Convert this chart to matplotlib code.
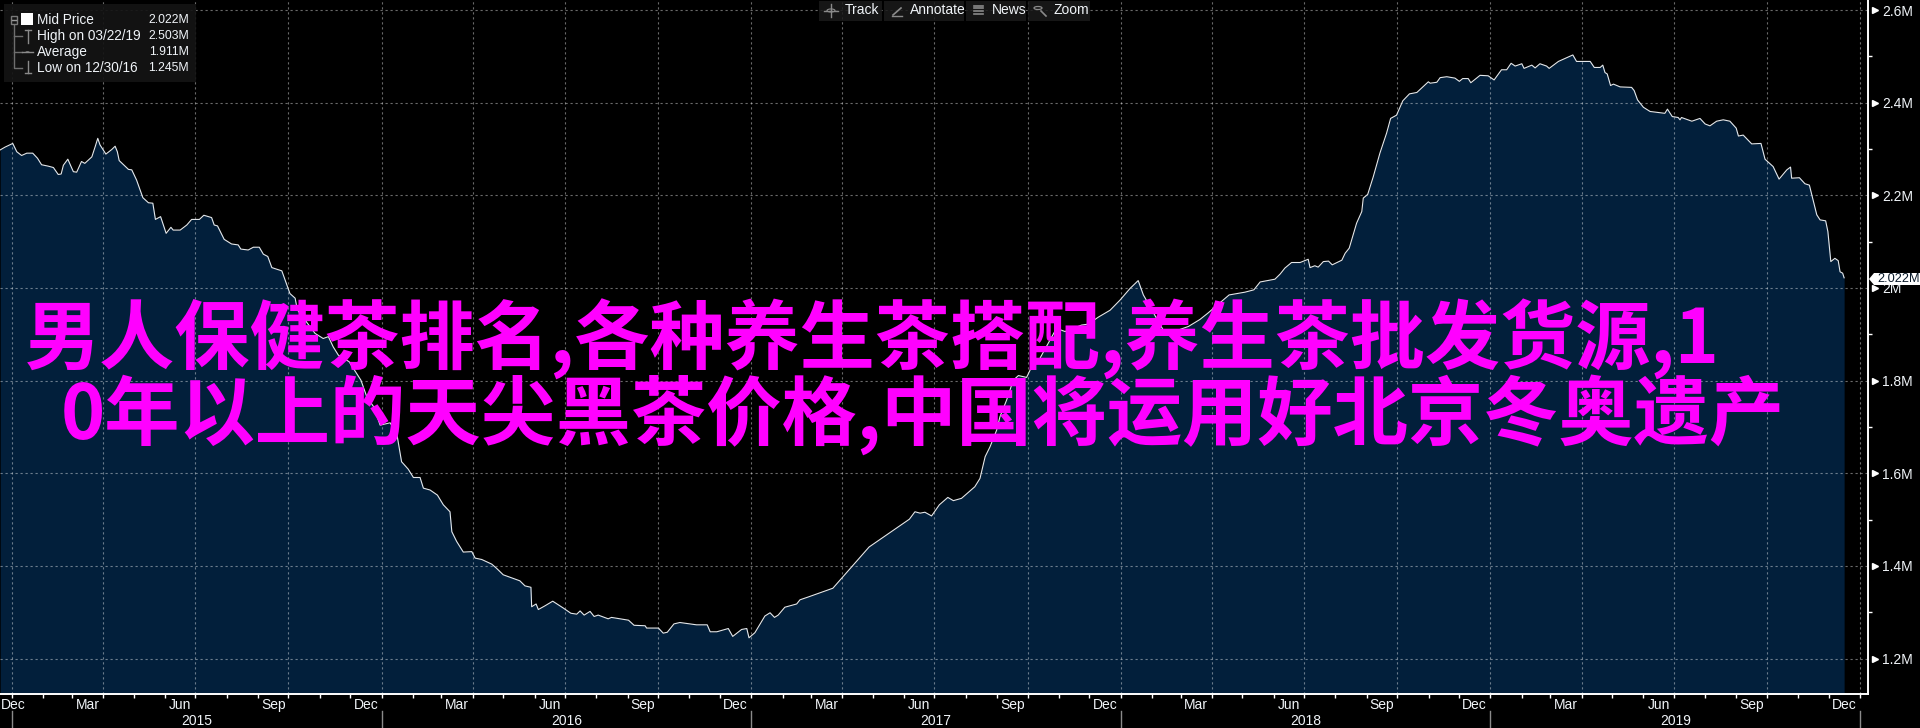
import matplotlib
matplotlib.use('Agg')
import matplotlib.pyplot as plt
from matplotlib.lines import Line2D
from matplotlib.patches import Rectangle, Polygon, Circle

# decimal years and mid price in millions
dates = [
    2014.968, 2014.981, 2015.002, 2015.013, 2015.026, 2015.040, 2015.056, 2015.069, 2015.080, 2015.098,
    2015.112, 2015.125, 2015.133, 2015.139, 2015.151, 2015.166, 2015.175, 2015.188, 2015.197, 2015.216,
    2015.225, 2015.232, 2015.238, 2015.254, 2015.270, 2015.279, 2015.285, 2015.290, 2015.306, 2015.315,
    2015.324, 2015.337, 2015.354, 2015.369, 2015.381, 2015.388, 2015.402, 2015.417, 2015.430, 2015.436,
    2015.455, 2015.473, 2015.486, 2015.507, 2015.519, 2015.540, 2015.547, 2015.556, 2015.574, 2015.594,
    2015.612, 2015.619, 2015.639, 2015.653, 2015.669, 2015.680, 2015.692, 2015.703, 2015.730, 2015.752,
    2015.766, 2015.772, 2015.820, 2015.842, 2015.856, 2015.869, 2015.883, 2015.912, 2015.944, 2015.960,
    2015.979, 2015.996, 2016.023, 2016.041, 2016.054, 2016.072, 2016.086, 2016.104, 2016.113, 2016.131,
    2016.151, 2016.167, 2016.185, 2016.190, 2016.203, 2016.221, 2016.244, 2016.253, 2016.271, 2016.298,
    2016.311, 2016.329, 2016.374, 2016.388, 2016.404, 2016.406, 2016.418, 2016.424, 2016.442, 2016.463,
    2016.492, 2016.512, 2016.528, 2016.537, 2016.548, 2016.564, 2016.575, 2016.586, 2016.613, 2016.622,
    2016.668, 2016.683, 2016.713, 2016.717, 2016.749, 2016.762, 2016.773, 2016.791, 2016.807, 2016.852,
    2016.881, 2016.889, 2016.907, 2016.938, 2016.950, 2016.974, 2016.988, 2016.994, 2017.010, 2017.037,
    2017.051, 2017.063, 2017.073, 2017.091, 2017.123, 2017.132, 2017.154, 2017.221, 2017.286, 2017.319,
    2017.386, 2017.428, 2017.443, 2017.457, 2017.470, 2017.488, 2017.509, 2017.532, 2017.547, 2017.569,
    2017.605, 2017.619, 2017.633, 2017.646, 2017.664, 2017.673, 2017.691, 2017.709, 2017.723, 2017.745,
    2017.759, 2017.781, 2017.826, 2017.849, 2017.872, 2017.894, 2017.912, 2017.939, 2017.971, 2017.998,
    2018.025, 2018.047, 2018.061, 2018.079, 2018.097, 2018.115, 2018.151, 2018.183, 2018.214, 2018.236,
    2018.293, 2018.336, 2018.360, 2018.377, 2018.417, 2018.431, 2018.444, 2018.462, 2018.485, 2018.507,
    2018.512, 2018.525, 2018.534, 2018.548, 2018.562, 2018.572, 2018.598, 2018.607, 2018.618, 2018.638,
    2018.652, 2018.656, 2018.668, 2018.683, 2018.701, 2018.719, 2018.730, 2018.746, 2018.763, 2018.781,
    2018.801, 2018.832, 2018.837, 2018.855, 2018.864, 2018.882, 2018.904, 2018.916, 2018.925, 2018.940,
    2018.947, 2018.972, 2018.994, 2019.010, 2019.030, 2019.044, 2019.056, 2019.067, 2019.085, 2019.091,
    2019.112, 2019.121, 2019.134, 2019.152, 2019.159, 2019.184, 2019.206, 2019.223, 2019.233, 2019.270,
    2019.281, 2019.297, 2019.304, 2019.310, 2019.316, 2019.325, 2019.333, 2019.351, 2019.382, 2019.389,
    2019.398, 2019.414, 2019.432, 2019.472, 2019.479, 2019.492, 2019.508, 2019.513, 2019.517, 2019.545,
    2019.567, 2019.581, 2019.594, 2019.612, 2019.630, 2019.648, 2019.665, 2019.671, 2019.684, 2019.707,
    2019.732, 2019.743, 2019.765, 2019.781, 2019.802, 2019.812, 2019.815, 2019.836, 2019.851, 2019.863,
    2019.883, 2019.892, 2019.907, 2019.913, 2019.921, 2019.932, 2019.941, 2019.946, 2019.953, 2019.957,
]
mid_price = [
    2.298, 2.304, 2.312, 2.294, 2.286, 2.291, 2.291, 2.280, 2.266, 2.263,
    2.260, 2.245, 2.246, 2.265, 2.278, 2.251, 2.250, 2.273, 2.269, 2.283,
    2.305, 2.323, 2.309, 2.289, 2.299, 2.306, 2.294, 2.275, 2.263, 2.256,
    2.255, 2.233, 2.195, 2.184, 2.183, 2.148, 2.154, 2.118, 2.131, 2.125,
    2.125, 2.136, 2.148, 2.148, 2.157, 2.152, 2.136, 2.134, 2.105, 2.095,
    2.093, 2.084, 2.082, 2.088, 2.088, 2.073, 2.068, 2.044, 2.037, 1.988,
    1.978, 1.953, 1.902, 1.891, 1.895, 1.873, 1.855, 1.841, 1.801, 1.765,
    1.743, 1.704, 1.709, 1.686, 1.625, 1.609, 1.591, 1.591, 1.568, 1.564,
    1.553, 1.532, 1.517, 1.474, 1.453, 1.430, 1.431, 1.417, 1.414, 1.404,
    1.395, 1.381, 1.368, 1.357, 1.354, 1.312, 1.318, 1.306, 1.314, 1.324,
    1.309, 1.298, 1.296, 1.303, 1.294, 1.302, 1.291, 1.294, 1.286, 1.289,
    1.283, 1.272, 1.271, 1.266, 1.266, 1.255, 1.257, 1.275, 1.278, 1.273,
    1.273, 1.258, 1.258, 1.265, 1.248, 1.263, 1.265, 1.245, 1.256, 1.292,
    1.299, 1.289, 1.294, 1.311, 1.318, 1.327, 1.333, 1.352, 1.411, 1.441,
    1.478, 1.501, 1.517, 1.514, 1.516, 1.508, 1.532, 1.548, 1.541, 1.546,
    1.571, 1.589, 1.636, 1.657, 1.693, 1.722, 1.758, 1.801, 1.811, 1.807,
    1.830, 1.848, 1.913, 1.906, 1.913, 1.920, 1.922, 1.937, 1.952, 1.974,
    1.999, 2.016, 1.985, 1.960, 1.934, 1.909, 1.908, 1.917, 1.932, 1.946,
    1.985, 1.991, 1.996, 2.013, 2.019, 2.030, 2.043, 2.055, 2.055, 2.062,
    2.044, 2.048, 2.045, 2.057, 2.058, 2.050, 2.060, 2.075, 2.086, 2.140,
    2.165, 2.194, 2.202, 2.240, 2.291, 2.334, 2.366, 2.373, 2.404, 2.419,
    2.422, 2.445, 2.442, 2.444, 2.454, 2.456, 2.453, 2.446, 2.452, 2.452,
    2.443, 2.459, 2.458, 2.449, 2.471, 2.471, 2.485, 2.479, 2.484, 2.474,
    2.481, 2.475, 2.484, 2.479, 2.474, 2.489, 2.497, 2.503, 2.489, 2.489,
    2.476, 2.476, 2.481, 2.465, 2.462, 2.437, 2.440, 2.434, 2.433, 2.426,
    2.406, 2.390, 2.381, 2.377, 2.386, 2.370, 2.368, 2.363, 2.368, 2.360,
    2.366, 2.354, 2.350, 2.360, 2.363, 2.360, 2.345, 2.328, 2.330, 2.311,
    2.312, 2.278, 2.262, 2.235, 2.255, 2.261, 2.237, 2.238, 2.225, 2.222,
    2.158, 2.147, 2.145, 2.122, 2.057, 2.064, 2.059, 2.035, 2.032, 2.022,
]

years = [2015, 2016, 2017, 2018, 2019]
month_names = ['Mar', 'Jun', 'Sep', 'Dec']
month_days = [31, 28, 31, 30, 31, 30, 31, 31, 30, 31, 30, 31]
y_ticks = [1.2, 1.4, 1.6, 1.8, 2.0, 2.2, 2.4, 2.6]
y_minor = [1.3, 1.5, 1.7, 1.9, 2.1, 2.3, 2.5]
y_labels = ['1.2M', '1.4M', '1.6M', '1.8M', '2M', '2.2M', '2.4M', '2.6M']
legend_names = ['Mid Price', 'High on 03/22/19', 'Average', 'Low on 12/30/16']
legend_values = ['2.022M', '2.503M', '1.911M', '1.245M']
toolbar_names = ['Track', 'Annotate', 'News', 'Zoom']
last_price = '2.022M'
title_line1 = '男人保健茶排名,各种养生茶搭配,养生茶批发货源,1'
title_line2 = '0年以上的天尖黑茶价格,中国将运用好北京冬奥遗产'

W, H = 1920, 728
UI_FONT = ['Liberation Sans', 'DejaVu Sans']
TEXT_COL = '#f0f4f8'


def px(x, y):
    return x / W, 1 - y / H


def fig_line(fig, xs, ys, color='#777777', lw=1.0, **kw):
    fx = [x / W for x in xs]
    fy = [1 - y / H for y in ys]
    fig.add_artist(Line2D(fx, fy, color=color, lw=lw, transform=fig.transFigure, **kw))


def fig_box(fig, x0, y0, x1, y1, color, alpha=1.0, zorder=5):
    fig.add_artist(Rectangle(px(x0, y1), (x1 - x0) / W, (y1 - y0) / H, facecolor=color, edgecolor='none',
                             alpha=alpha, transform=fig.transFigure, zorder=zorder))


# month ends as decimal years
month_ends = []
for yr in years:
    total = 0
    for m, d in enumerate(month_days):
        total += d
        month_ends.append((yr, m, yr + total / 365.0))

fig = plt.figure(figsize=(W / 100, H / 100), dpi=100, facecolor='black')
ax = fig.add_axes([0, 1 - 694 / H, 1868 / W, 694 / H], facecolor='black')
ax.set_xlim(2014.9675, 2020.0216)
ax.set_ylim(1.1237, 2.6216)

ax.fill_between(dates, mid_price, 1.0, color='#021f3b', lw=0, zorder=1)
ax.plot(dates, mid_price, color='#e4e8ec', lw=0.8, zorder=3)

# quarter grid
quarter_x = [2015.0] + [e[2] for e in month_ends if e[1] in (2, 5, 8, 11)]
minor_x = [e[2] for e in month_ends if e[1] not in (2, 5, 8, 11)]
for x in quarter_x:
    ax.axvline(x, color='white', alpha=0.42, lw=0.8, ls=(0, (2, 2.5)), zorder=2)
for y in y_ticks:
    ax.axhline(y, color='white', alpha=0.42, lw=0.8, ls=(0, (2, 2.5)), zorder=2)

for s in ['top', 'left']:
    ax.spines[s].set_visible(False)
ax.spines['right'].set_color('white')
ax.spines['bottom'].set_color('white')
ax.spines['right'].set_linewidth(1.4)
ax.spines['bottom'].set_linewidth(1.4)

ax.yaxis.tick_right()
ax.set_yticks(y_ticks)
ax.set_yticklabels(y_labels, family=UI_FONT, fontsize=10, color=TEXT_COL)
ax.set_yticks(y_minor, minor=True)
ax.tick_params(axis='y', which='major', length=0, pad=10)
ax.tick_params(axis='y', which='minor', length=3, color='white', width=1)
ax.plot([1.0035] * len(y_ticks), y_ticks, ls='none', marker='>', ms=4, color='white',
        transform=ax.get_yaxis_transform(), clip_on=False, zorder=6)

ax.set_xticks(quarter_x)
ax.set_xticklabels([])
ax.set_xticks(minor_x, minor=True)
ax.tick_params(axis='x', which='both', length=3, color='white', width=1, direction='out')

# month labels sit in the middle of their month
label_tf = ax.get_xaxis_transform()
ax.text(2015.0027, -0.0165, 'Dec', transform=label_tf, ha='center', va='center', family=UI_FONT,
        fontsize=10, color=TEXT_COL)
for yr, m, end in month_ends:
    if m in (2, 5, 8, 11):
        mid = end - month_days[m] / 365.0 / 2
        ax.text(mid, -0.0165, month_names[(m - 2) // 3], transform=label_tf, ha='center', va='center',
                family=UI_FONT, fontsize=10, color=TEXT_COL)

# year row
for yr in years + [2020]:
    x_px = (yr - 2014.9675) / (2020.0216 - 2014.9675) * 1868
    fig_line(fig, [x_px, x_px], [711, 728], color='#8a8a8a', lw=1)
for yr in years:
    ax.text(yr + 0.5, -0.0385, str(yr), transform=label_tf, ha='center', va='center', family=UI_FONT,
            fontsize=10, color=TEXT_COL)

# last price tag
fig.add_artist(Polygon([px(1869, 279), px(1874, 273), px(1920, 273), px(1920, 285), px(1874, 285)],
                       closed=True, facecolor='white', edgecolor='none', transform=fig.transFigure, zorder=8))
fig.text(*px(1877, 279.5), last_price, family=UI_FONT, fontsize=9.2, color='#0a1a2a', ha='left', va='center', zorder=9)

# legend box
fig_box(fig, 4, 4, 196, 82, '#141414', alpha=0.92)
fig_line(fig, [14, 14, 22], [24, 68, 68], color='#6e6e6e', zorder=6)
fig_line(fig, [14, 22], [36, 36], color='#6e6e6e', zorder=6)
fig_line(fig, [14, 22], [52, 52], color='#6e6e6e', zorder=6)
fig.add_artist(Rectangle(px(11, 24), 6 / W, 8 / H, facecolor='#141414', edgecolor='#7a7a7a', lw=1,
                         transform=fig.transFigure, zorder=7))
fig_line(fig, [12, 16], [20, 20], color='#9a9a9a', zorder=8)
fig_box(fig, 21, 13, 33, 25, 'white', zorder=7)
fig_line(fig, [25, 31], [30, 30], color='#8a8a8a', zorder=6)
fig_line(fig, [28, 28], [30, 43], color='#8a8a8a', zorder=6)
fig_line(fig, [22, 33], [52, 52], color='#8a8a8a', zorder=6)
fig.add_artist(Circle(px(27.5, 52), 2.0 / W, facecolor='#8a8a8a', edgecolor='none', transform=fig.transFigure, zorder=7))
fig_line(fig, [28, 28], [61, 73], color='#8a8a8a', zorder=6)
fig_line(fig, [25, 31], [73, 73], color='#8a8a8a', zorder=6)
for i, (name, val) in enumerate(zip(legend_names, legend_values)):
    y = [20, 36, 52, 68][i]
    fig.text(*px(37, y), name, family=UI_FONT, fontsize=9.8, color=TEXT_COL, ha='left', va='center', zorder=7)
    fig.text(*px(189, y), val, family=UI_FONT, fontsize=8.8, color=TEXT_COL, ha='right', va='center', zorder=7)

# toolbar
button_edges = [(819, 882), (884, 964), (966, 1026), (1028, 1090)]
button_text_x = [845, 910, 992, 1054]
for (x0, x1), tx, name in zip(button_edges, button_text_x, toolbar_names):
    fig_box(fig, x0, 1, x1, 21, '#1a1a1a', alpha=0.85)
    fig.text(*px(tx, 10.5), name, family=UI_FONT, fontsize=10, color=TEXT_COL, ha='left', va='center', zorder=7)
fig_line(fig, [824, 838], [10.5, 10.5], color='#8a8a8a', zorder=7)
fig_line(fig, [831, 831], [4, 17], color='#8a8a8a', zorder=7)
fig.add_artist(Circle(px(831, 10.5), 4 / W, facecolor='none', edgecolor='#8a8a8a', lw=0.8, transform=fig.transFigure, zorder=7))
fig_line(fig, [893, 901], [15, 8], color='#8a8a8a', lw=1.2, zorder=7)
fig_line(fig, [892, 902], [15.5, 15.5], color='#8a8a8a', zorder=7)
for yy in [6, 8, 11, 14]:
    fig_line(fig, [974, 983], [yy, yy], color='#8a8a8a', lw=1.2, zorder=7)
fig.add_artist(Circle(px(1038, 8), 4 / W, facecolor='none', edgecolor='#8a8a8a', lw=0.9, transform=fig.transFigure, zorder=7))
fig_line(fig, [1041, 1046], [11, 16], color='#8a8a8a', lw=1.2, zorder=7)

# magenta overlay text
big = ['Noto Sans CJK SC', 'DejaVu Sans']
fig.text(*px(25, 364), title_line1, family=big, fontsize=54.1, weight='bold', color='#ff00ff',
         ha='left', va='baseline', zorder=10)
fig.text(*px(61, 439), title_line2, family=big, fontsize=54.2, weight='bold', color='#ff00ff',
         ha='left', va='baseline', zorder=10)

fig.savefig('out.png', dpi=100, facecolor='black')
